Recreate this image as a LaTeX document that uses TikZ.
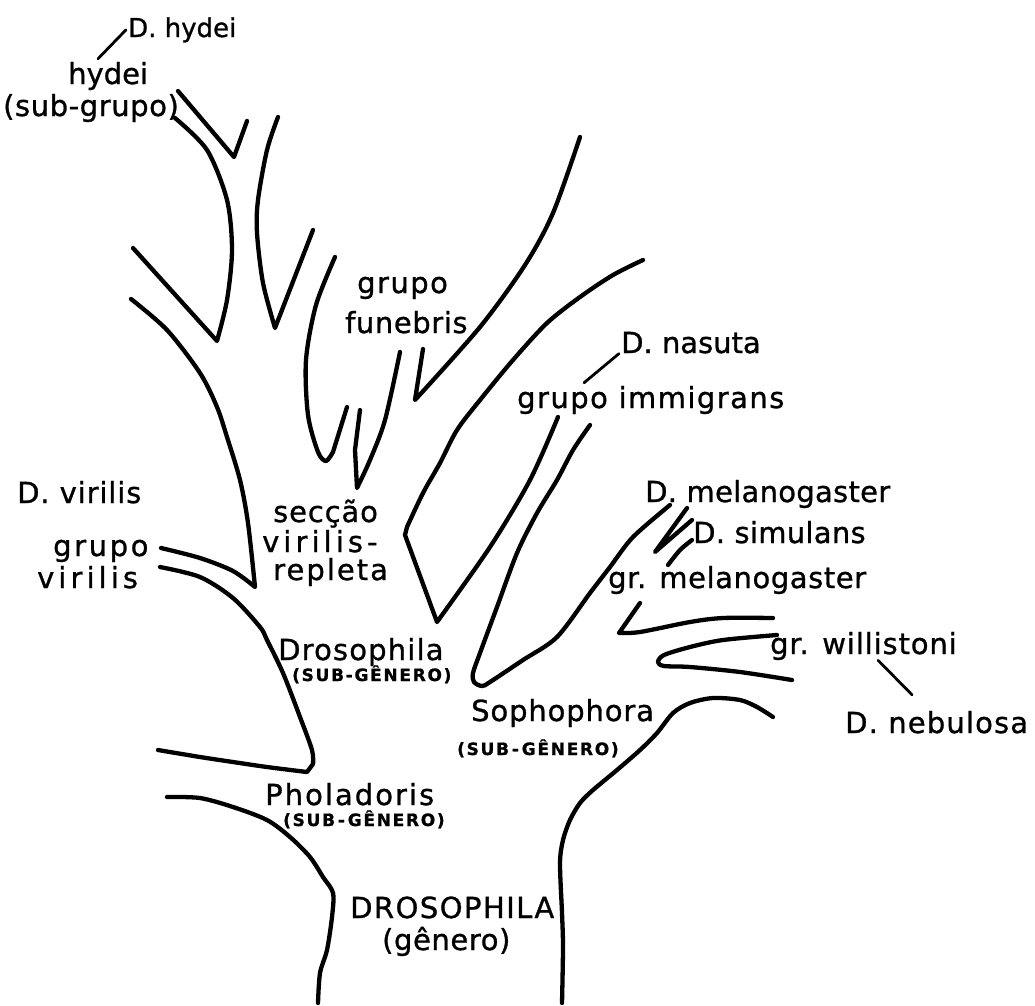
\documentclass[tikz,border=0pt]{standalone}
\usepackage{fontspec}
\setmainfont{DejaVu Sans}[FakeBold=1]
\begin{document}
\begin{tikzpicture}[x=1pt,y=-1pt,
    branch/.style={line width=4.3pt,line cap=round,line join=round},
    leader/.style={line width=2.8pt,line cap=round},
    lbl/.style={anchor=base west,inner sep=0pt,font=\fontsize{29}{31}\selectfont\addfontfeature{LetterSpace=#1}},
    lbl/.default=3,
    subg/.style={anchor=base west,inner sep=0pt,font=\fontsize{17}{19}\selectfont\bfseries\addfontfeature{LetterSpace=10}}]
    \useasboundingbox (0,0) rectangle (1035,1005);
    % hydei sub-group
    \draw[branch] (178,91) -- (234,157) -- (247,121);
    \draw[branch] plot[smooth] coordinates {(175,118) (207,150) (227,200) (232,250) (227,300) (217,341)} -- (133,248);
    \draw[branch] plot[smooth] coordinates {(278,117) (267,150) (258,200) (257,233) (263,283) (275,328)} -- (313,230);
    % trunk and grupo virilis
    \draw[branch] plot[smooth] coordinates {(131,299) (167,330) (200,373) (217,407) (227,437) (240,480) (248,523) (255,587)}
        -- plot[smooth] coordinates {(255,587) (233,571) (200,558) (161,548)};
    % grupo funebris
    \draw[branch] plot[smooth] coordinates {(335,257) (316,305) (306,360) (308,415) (318,452) (326,461) (333,452)} -- (347,407);
    \draw[branch] (360,410) -- (355,450) -- (357,488) -- plot[smooth] coordinates {(357,488) (370,460) (385,420) (400,352)};
    \draw[branch] (423,349) -- (415,400) -- plot[smooth] coordinates {(415,400) (480,327) (525,265) (553,213) (580,137)};
    % seccao virilis-repleta
    \draw[branch] plot[smooth] coordinates {(643,260) (613,275) (580,297) (547,323) (513,360) (480,400) (457,430) (440,463) (423,493) (407,527)}
        -- (405,535) -- (437,622) -- plot[smooth] coordinates {(437,622) (490,547) (530,480) (558,417)};
    % Sophophora branches
    \draw[branch] plot[smooth] coordinates {(590,425) (573,450) (557,480) (537,513) (517,553) (497,607) (480,653) (473,673) (474,682) (482,686) (490,682) (523,660) (557,637) (590,593) (610,567) (633,537) (670,505)};
    \draw[branch] (687,508) -- (655,552) -- (692,520);
    \draw[branch] plot[smooth] coordinates {(692,540) (680,550) (668,565)};
    \draw[branch] (640,603) -- (619,633) -- plot[smooth] coordinates {(619,633) (640,632) (690,622) (723,618) (773,618)};
    \draw[branch] plot[smooth] coordinates {(777,635) (723,640) (690,647) (664,655) (658,662) (664,666) (690,667) (740,672) (792,680)};
    \draw[branch] plot[smooth] coordinates {(773,717) (757,707) (740,700) (713,698) (690,703) (673,713) (657,733) (640,750) (617,770) (593,790) (580,803) (570,820) (563,840) (560,863) (562,913) (563,947) (562,1003)};
    % Drosophila sub-genero and Pholadoris
    \draw[branch] plot[smooth] coordinates {(160,567) (200,577) (233,598) (260,627) (267,640) (283,673) (300,717) (312,750) (313,764)}
        -- (307,772) -- plot[smooth] coordinates {(307,772) (267,767) (233,762) (200,757) (158,750)};
    \draw[branch] plot[smooth] coordinates {(167,797) (200,798) (233,807) (267,820) (290,837) (310,857) (323,877) (333,893) (332,917) (327,950) (320,973) (318,1003)};
    % labels
    \node[lbl=2,font=\fontsize{26}{28}\selectfont] (dhydei) at (128,37) {D. hydei};
    \node[lbl=0] (hydei) at (68,84) {hydei};
    \node[lbl=2] (subgrupo) at (3,116) {(sub-grupo)};
    \node[lbl=5] (funebrisA) at (357,293) {grupo};
    \node[lbl=2] (funebrisB) at (345,333) {funebris};
    \node[lbl=0] (nasuta) at (621,353) {D. nasuta};
    \node[lbl=5] (immigrans) at (517,408) {grupo immigrans};
    \node[lbl=1] (melano) at (645,502) {D. melanogaster};
    \node[lbl=1] (simulans) at (693,543) {D. simulans};
    \node[lbl=2] (grmelano) at (608,588) {gr. melanogaster};
    \node[lbl=3] (willistoni) at (770,654) {gr. willistoni};
    \node[lbl=4] (nebulosa) at (845,733) {D. nebulosa};
    \node[lbl=3] (virilisD) at (17,503) {D. virilis};
    \node[lbl=9] (grupoV) at (53,556) {grupo};
    \node[lbl=14] (virilisG) at (37,588) {virilis};
    \node[lbl=3] (seccao) at (273,522) {secção};
    \node[lbl=14] (virrep) at (262,552) {virilis-};
    \node[lbl=7] (repleta) at (273,580) {repleta};
    \node[lbl=4] (drosoph) at (278,660) {Drosophila};
    \node[subg] (drosophG) at (292,681) {(SUB-GÊNERO)};
    \node[lbl=7] (pholad) at (265,805) {Pholadoris};
    \node[subg] (pholadG) at (283,826) {(SUB\,-\,GÊNERO)};
    \node[lbl=3] (sophoph) at (471,721) {Sophophora};
    \node[subg] (sophophG) at (457,755) {(SUB\,-\,GÊNERO)};
    \node[lbl=5] (genus) at (350,918) {DROSOPHILA};
    \node[lbl=2] (genero) at (382,950) {(gênero)};
    % leaders
    \draw[leader] ([shift={(30pt,3pt)}]hydei.north west) -- ([xshift=-2pt]dhydei.west);
    \draw[leader] ([shift={(67pt,3pt)}]immigrans.north west) -- ([xshift=-2pt]nasuta.south west);
    \draw[leader] ([xshift=108pt]willistoni.south west) -- ([shift={(67pt,16pt)}]nebulosa.north west);
\end{tikzpicture}
\end{document}
